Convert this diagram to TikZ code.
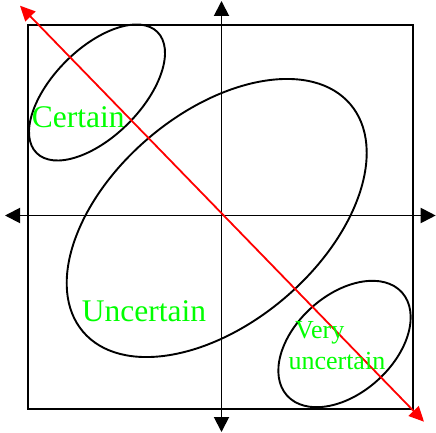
\documentclass[tikz,border=0pt]{standalone}
\usepackage{fontspec}
\setmainfont{Liberation Serif}
\usepackage{xcolor}
\usetikzlibrary{arrows.meta,positioning}
\definecolor{label}{HTML}{00FF00}
\definecolor{trend}{HTML}{FF0000}

\begin{document}
\begin{tikzpicture}[x=1pt,y=-1pt,
  axis/.style={line width=1.9pt,{Triangle[length=15pt,width=15pt]}-{Triangle[length=15pt,width=15pt]}},
  diag/.style={line width=1.8pt,draw=trend,{Triangle[length=15pt,width=14pt]}-{Triangle[length=15pt,width=14pt]}},
  region/.style={line width=1.9pt},
  big/.style={text=label,inner sep=0pt,anchor=base west,font=\fontsize{31.5}{38}\selectfont},
  small/.style={big,align=left,font=\fontsize{26}{31}\selectfont}]

  \useasboundingbox (0,0) rectangle (436,433);

  % frame
  \draw[line width=1.9pt] (28.3,25) rectangle (412.7,409.3);

  % axes
  \coordinate (left)   at (5,215.5);
  \coordinate (right)  at (435.7,215.5);
  \coordinate (top)    at (221.5,1);
  \coordinate (bottom) at (221.5,432);
  \draw[axis] (left) -- (right);
  \draw[axis] (top) -- (bottom);

  % regions
  \draw[region,shift={(97,92.5)},rotate=45] (0,0) ellipse [x radius=85.5,y radius=44];
  \draw[region,shift={(216.7,218)},rotate=40.4] (0,0) ellipse [x radius=175.5,y radius=105];
  \draw[region,shift={(344.5,344)},rotate=41.9] (0,0) ellipse [x radius=77.2,y radius=49.1];

  % diagonal
  \coordinate (nw) at (20,5.7);
  \coordinate (se) at (424,421.7);
  \draw[diag] (nw) -- (se);

  % labels
  \node[big] (certain) at (31.7,127.7) {Certain};
  \node[big] (uncertain) at (81.7,321) {Uncertain};
  \node[small] (very) at (288.3,369.3) {\hspace*{6.7pt}Very\\uncertain};
\end{tikzpicture}
\end{document}
